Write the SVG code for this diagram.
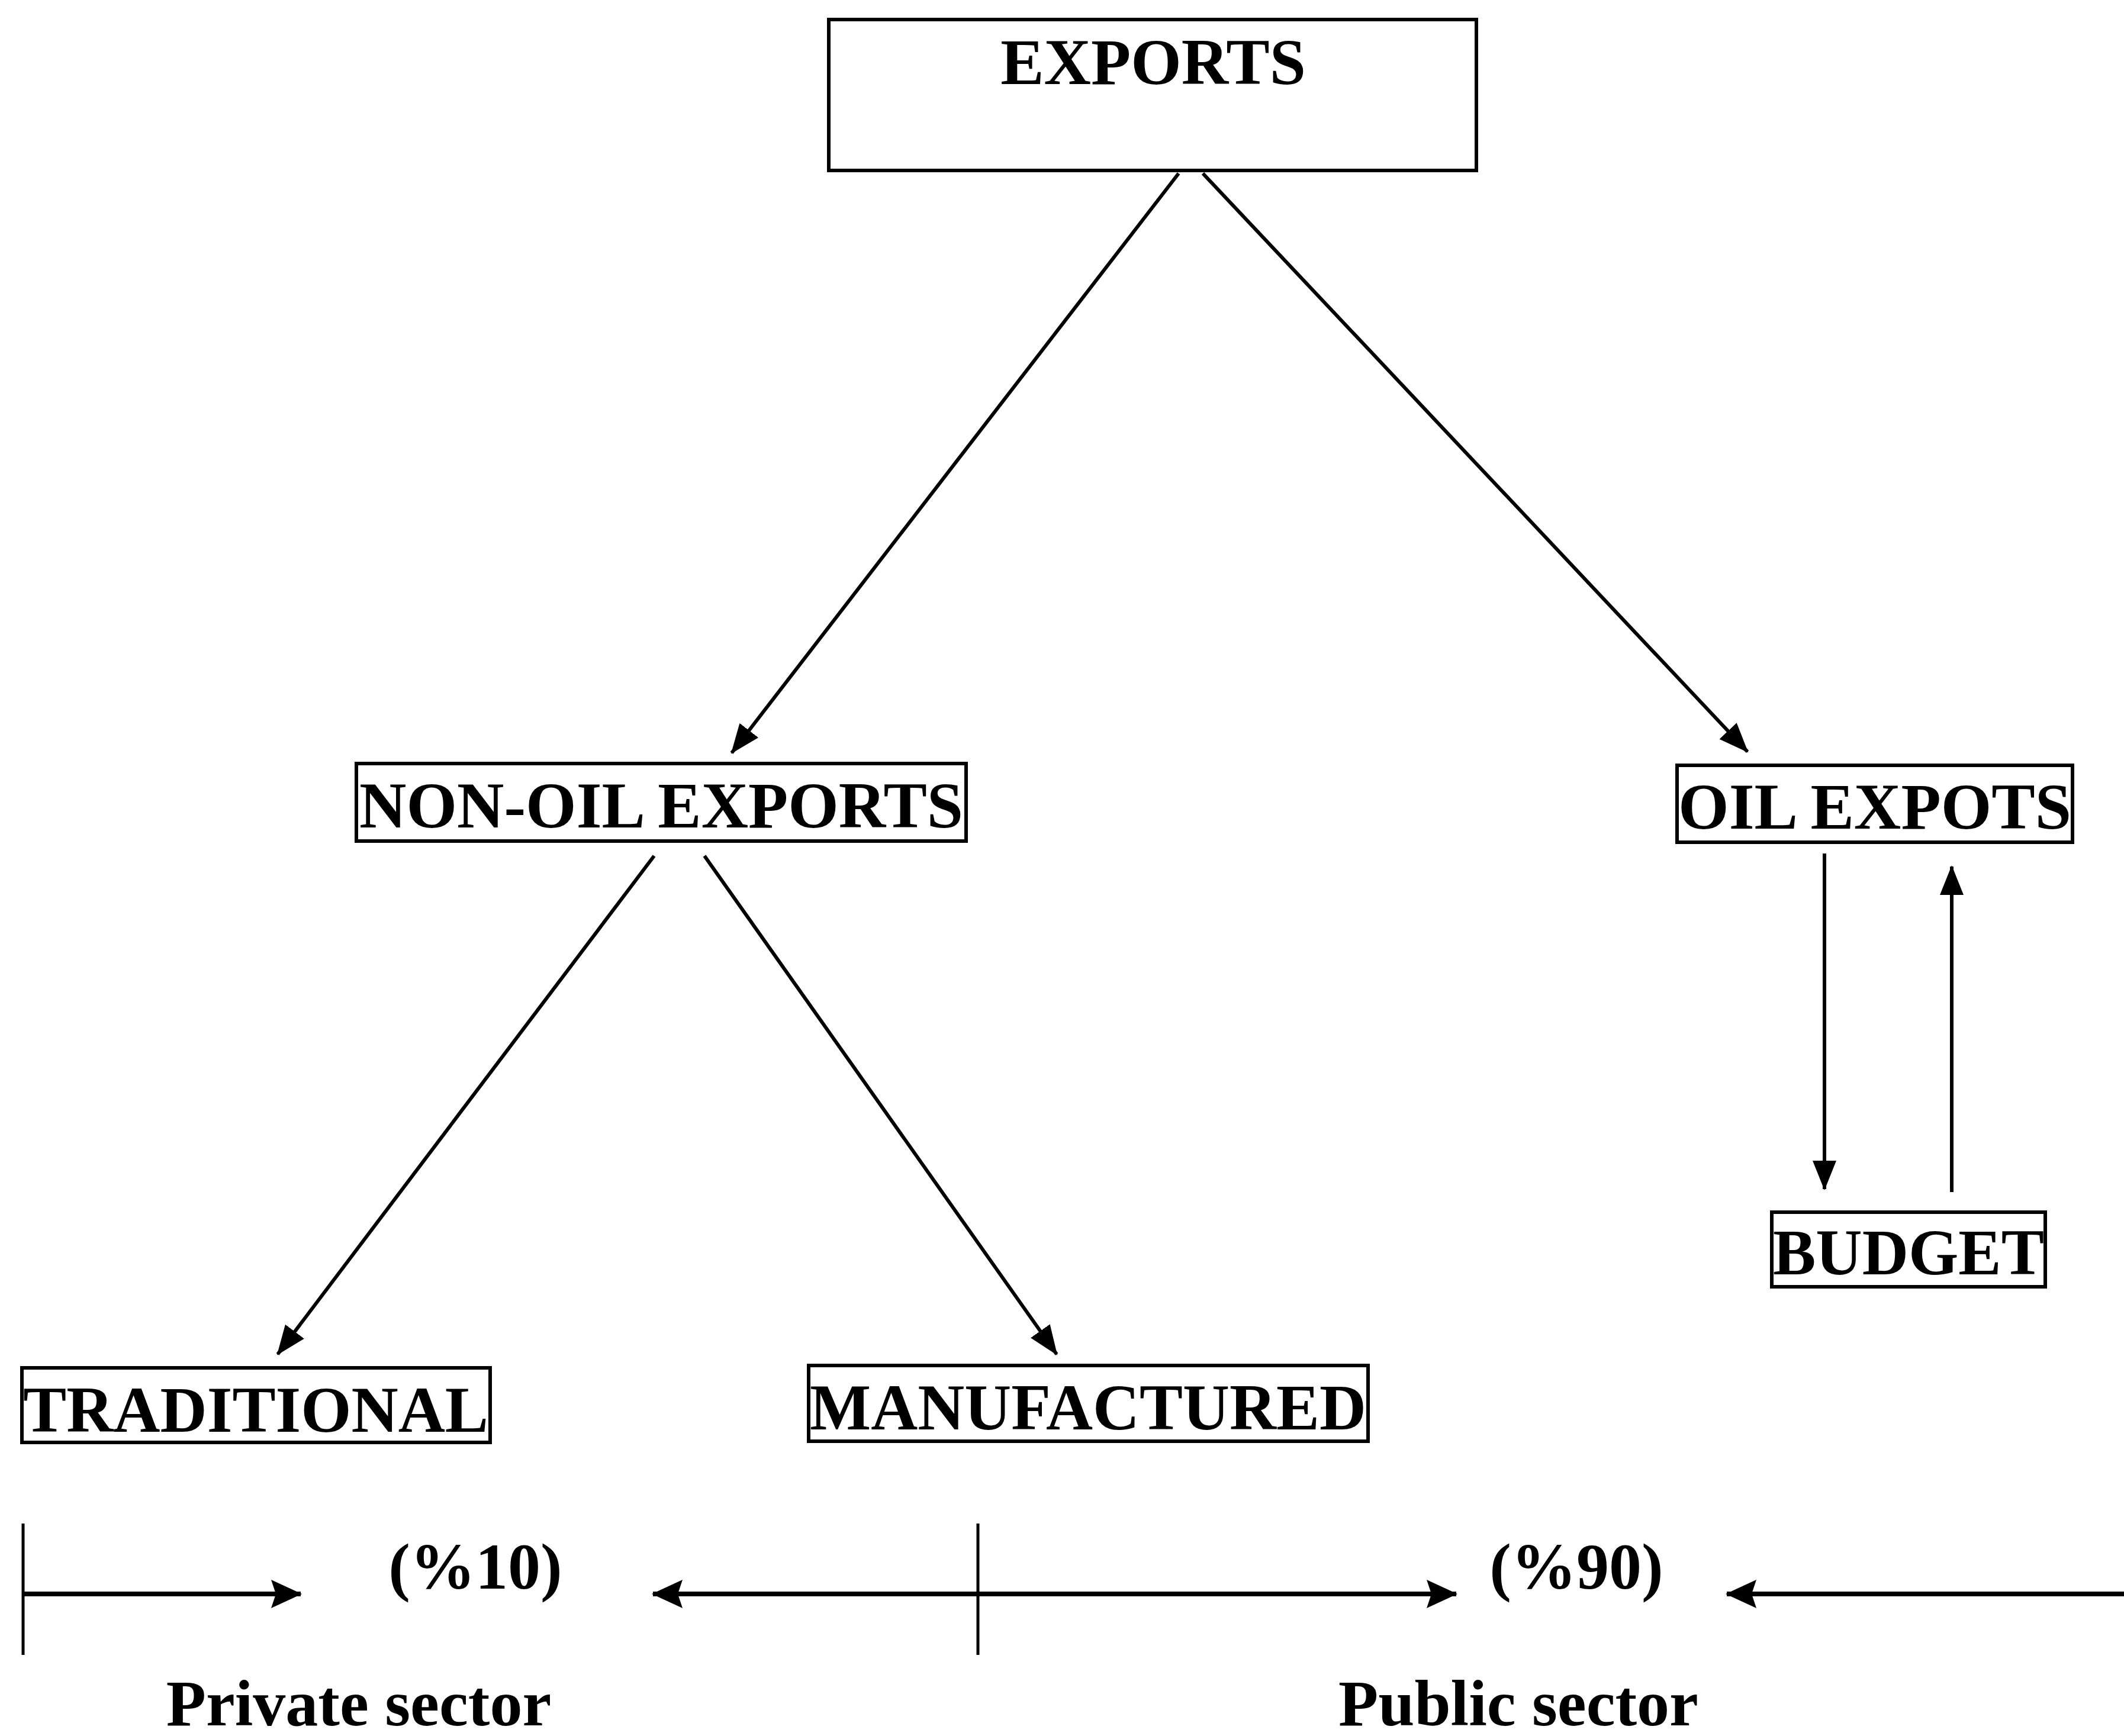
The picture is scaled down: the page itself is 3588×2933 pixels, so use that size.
<svg xmlns="http://www.w3.org/2000/svg" width="3588" height="2933" viewBox="0 0 3588 2933">
<style>
.box{fill:#fff;stroke:#000;stroke-width:6}
.t{font-family:"Liberation Serif","Times New Roman",serif;font-weight:bold;font-size:110px;fill:#000}
.c{stroke:#000;stroke-width:6;fill:none}
.h{stroke:#000;stroke-width:8;fill:none}
.v{stroke:#000;stroke-width:5;fill:none}
</style>
<defs>
<marker id="ah" markerUnits="userSpaceOnUse" markerWidth="50" markerHeight="40" refX="48" refY="20" orient="auto">
<path d="M0,0 L50,20 L0,40 Z" fill="#000"/>
</marker>
<marker id="ahb" markerUnits="userSpaceOnUse" markerWidth="52" markerHeight="48" refX="50" refY="24" orient="auto">
<path d="M0,0 L52,24 L0,48 L8,24 Z" fill="#000"/>
</marker>
</defs>
<g id="exports"><rect class="box" x="1400" y="33" width="1094" height="255"/><text class="t" x="1948" y="142" text-anchor="middle">EXPORTS</text></g>
<g id="nonoil"><rect class="box" x="602" y="1290" width="1030" height="131"/><text class="t" x="1117" y="1398" text-anchor="middle" textLength="1020" lengthAdjust="spacingAndGlyphs">NON-OIL EXPORTS</text></g>
<g id="oil"><rect class="box" x="2833" y="1293" width="668" height="130"/><text class="t" x="3167" y="1400" text-anchor="middle" textLength="664" lengthAdjust="spacingAndGlyphs">OIL EXPOTS</text></g>
<g id="budget"><rect class="box" x="2993" y="2048" width="462" height="126"/><text class="t" x="3224" y="2153" text-anchor="middle" textLength="458" lengthAdjust="spacingAndGlyphs">BUDGET</text></g>
<g id="traditional"><rect class="box" x="37" y="2311" width="791" height="126"/><text class="t" x="432" y="2419" text-anchor="middle" textLength="786" lengthAdjust="spacingAndGlyphs">TRADITIONAL</text></g>
<g id="manufactured"><rect class="box" x="1366" y="2307" width="945" height="128"/><text class="t" x="1838" y="2415" text-anchor="middle" textLength="940" lengthAdjust="spacingAndGlyphs">MANUFACTURED</text></g>
<g id="connectors">
<line class="c" x1="1991" y1="293" x2="1236" y2="1272" marker-end="url(#ah)"/>
<line class="c" x1="2032" y1="293" x2="2952" y2="1270" marker-end="url(#ah)"/>
<line class="c" x1="1105" y1="1446" x2="469" y2="2288" marker-end="url(#ah)"/>
<line class="c" x1="1190" y1="1446" x2="1785" y2="2288" marker-end="url(#ah)"/>
<line class="c" x1="3082" y1="1442" x2="3082" y2="2009" marker-end="url(#ah)"/>
<line class="c" x1="3297" y1="2014" x2="3297" y2="1464" marker-end="url(#ah)"/>
<line class="v" x1="39" y1="2574" x2="39" y2="2796"/>
<line class="v" x1="1652" y1="2574" x2="1652" y2="2796"/>
<line class="h" x1="39" y1="2693" x2="508" y2="2693" marker-end="url(#ahb)"/>
<line class="h" x1="1652" y1="2693" x2="1103" y2="2693" marker-end="url(#ahb)"/>
<line class="h" x1="1652" y1="2693" x2="2460" y2="2693" marker-end="url(#ahb)"/>
<line class="h" x1="3588" y1="2693" x2="2917" y2="2693" marker-end="url(#ahb)"/>
</g>
<g id="labels">
<text class="t" x="803" y="2684" text-anchor="middle">(%10)</text>
<text class="t" x="2663" y="2684" text-anchor="middle">(%90)</text>
<text class="t" x="606" y="2915" text-anchor="middle">Private sector</text>
<text class="t" x="2565" y="2915" text-anchor="middle">Public sector</text>
</g>
</svg>
